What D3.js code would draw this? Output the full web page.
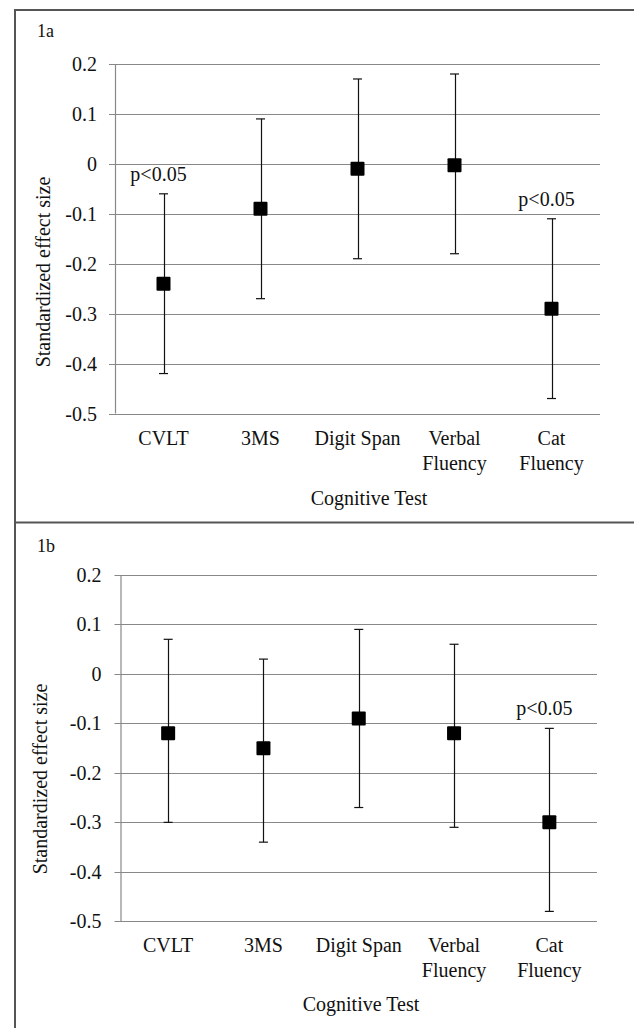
<!DOCTYPE html>
<html>
<head>
<meta charset="utf-8">
<script src="https://cdn.jsdelivr.net/npm/d3@7"></script>
<style>
  body { margin: 0; background: #fff; }
  svg { display: block; font-family: "Liberation Serif", "Times New Roman", serif; }
</style>
</head>
<body>
<svg id="chart" width="634" height="1028"></svg>
<script>
// Data
const categories = ["CVLT", "3MS", "Digit Span", "Verbal\nFluency", "Cat\nFluency"];
const yTicks = [0.2, 0.1, 0, -0.1, -0.2, -0.3, -0.4, -0.5];

const meanA  = [-0.24, -0.09, -0.01, -0.003, -0.29];
const lowerA = [-0.42, -0.27, -0.19, -0.18, -0.47];
const upperA = [-0.06,  0.09,  0.17,  0.18, -0.11];
const sigA   = ["CVLT", "Cat\nFluency"];

const meanB  = [-0.12, -0.15, -0.09, -0.12, -0.30];
const lowerB = [-0.30, -0.34, -0.27, -0.31, -0.48];
const upperB = [ 0.07,  0.03,  0.09,  0.06, -0.11];
const sigB   = ["Cat\nFluency"];

const svg = d3.select("#chart");

// Panel frame lines
svg.append("line").attr("x1", 15).attr("x2", 634).attr("y1", 10).attr("y2", 10)
  .attr("stroke", "#555").attr("stroke-width", 2);
svg.append("line").attr("x1", 15).attr("x2", 634).attr("y1", 522.5).attr("y2", 522.5)
  .attr("stroke", "#555").attr("stroke-width", 2);
svg.append("line").attr("x1", 15).attr("x2", 15).attr("y1", 9).attr("y2", 1028)
  .attr("stroke", "#555").attr("stroke-width", 2);

function drawPanel(opts) {
  const { name, mean, lower, upper, sig, left, right, top, bottom, nameY, labelX, labelY, titleX, titleY, tickRight, catY } = opts;

  const g = svg.append("g");

  const x = d3.scaleBand().domain(categories).range([left, right]);
  const y = d3.scaleLinear().domain([-0.5, 0.2]).range([bottom, top]);

  // Panel name
  g.append("text").attr("x", 37).attr("y", nameY)
    .attr("font-size", 18).attr("fill", "#111").text(name);

  // Gridlines
  g.append("g").selectAll("line").data(yTicks).join("line")
    .attr("x1", left - 6).attr("x2", right)
    .attr("y1", d => Math.round(y(d)) + 0.5).attr("y2", d => Math.round(y(d)) + 0.5)
    .attr("stroke", "#888").attr("stroke-width", 1.2);

  // Y axis line
  g.append("line").attr("x1", left + 0.5).attr("x2", left + 0.5)
    .attr("y1", y(0.2)).attr("y2", y(-0.5))
    .attr("stroke", "#888").attr("stroke-width", 1.2);

  // Y tick labels
  g.append("g").selectAll("text").data(yTicks).join("text")
    .attr("x", tickRight).attr("y", d => y(d)).attr("dy", "0.35em")
    .attr("text-anchor", "end").attr("font-size", 20).attr("fill", "#111")
    .text(d => d3.format(".1f")(d).replace(".0", "").replace("−", "-").replace(/^0\.0$/, "0"));

  // Category labels
  const cat = g.append("g").selectAll("text").data(categories).join("text")
    .attr("x", d => x(d) + x.bandwidth() / 2).attr("y", catY)
    .attr("text-anchor", "middle").attr("font-size", 20).attr("fill", "#111");
  cat.each(function (d) {
    const lines = d.split("\n");
    const t = d3.select(this);
    lines.forEach((ln, i) => {
      t.append("tspan").attr("x", x(d) + x.bandwidth() / 2).attr("dy", i === 0 ? 0 : 25).text(ln);
    });
  });

  // Axis titles
  g.append("text").attr("x", titleX).attr("y", titleY)
    .attr("text-anchor", "middle").attr("font-size", 20).attr("fill", "#111")
    .text("Cognitive Test");
  g.append("text")
    .attr("transform", `translate(${labelX},${labelY}) rotate(-90)`)
    .attr("text-anchor", "middle").attr("dy", "0.35em")
    .attr("font-size", 20).attr("fill", "#111")
    .text("Standardized effect size");

  const idx = d3.range(categories.length);
  const cx = i => x(categories[i]) + x.bandwidth() / 2;

  // Error bars
  const eb = g.append("g").attr("stroke", "#111").attr("stroke-width", 1.2);
  eb.selectAll("line.v").data(idx).join("line").attr("class", "v")
    .attr("x1", i => Math.round(cx(i)) + 0.5).attr("x2", i => Math.round(cx(i)) + 0.5)
    .attr("y1", i => y(upper[i])).attr("y2", i => y(lower[i]));
  eb.selectAll("line.cu").data(idx).join("line").attr("class", "cu")
    .attr("x1", i => cx(i) - 4.5).attr("x2", i => cx(i) + 4.5)
    .attr("y1", i => y(upper[i])).attr("y2", i => y(upper[i]));
  eb.selectAll("line.cl").data(idx).join("line").attr("class", "cl")
    .attr("x1", i => cx(i) - 4.5).attr("x2", i => cx(i) + 4.5)
    .attr("y1", i => y(lower[i])).attr("y2", i => y(lower[i]));

  // Markers
  g.append("g").selectAll("rect").data(idx).join("rect")
    .attr("x", i => cx(i) - 7).attr("y", i => y(mean[i]) - 7)
    .attr("width", 14).attr("height", 14).attr("rx", 1)
    .attr("fill", "#000");

  // Significance labels
  g.append("g").selectAll("text").data(sig).join("text")
    .attr("x", d => x(d) + x.bandwidth() / 2 - 5)
    .attr("y", d => y(upper[categories.indexOf(d)]) - 13)
    .attr("text-anchor", "middle").attr("font-size", 20).attr("fill", "#111")
    .text("p<0.05");
}

drawPanel({
  name: "1a", mean: meanA, lower: lowerA, upper: upperA, sig: sigA,
  left: 115, right: 600, top: 64, bottom: 413.5, nameY: 37,
  labelX: 43, labelY: 272, titleX: 369, titleY: 505, tickRight: 97, catY: 445
});

drawPanel({
  name: "1b", mean: meanB, lower: lowerB, upper: upperB, sig: sigB,
  left: 120.5, right: 597, top: 575, bottom: 921.3, nameY: 552,
  labelX: 40, labelY: 779, titleX: 361, titleY: 1011, tickRight: 101.5, catY: 951.5
});
</script>
</body>
</html>
